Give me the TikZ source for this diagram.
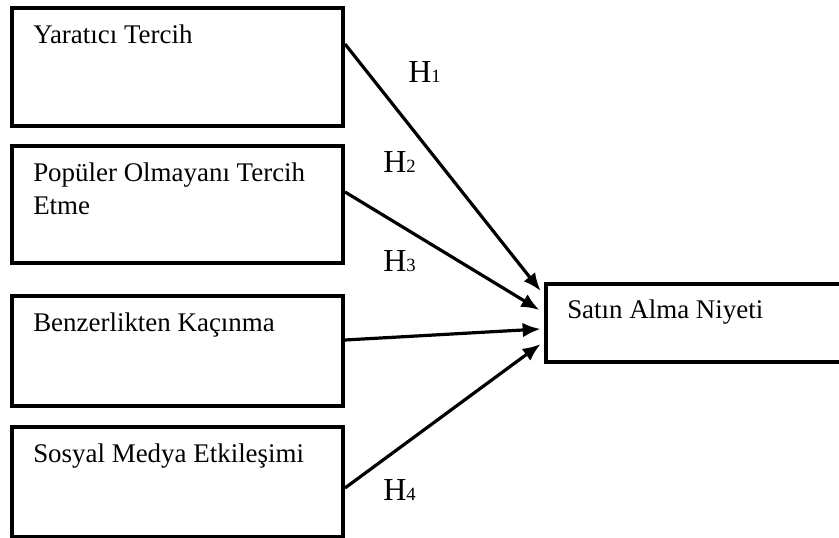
\documentclass[tikz,border=0pt]{standalone}
\usepackage{fontspec}
\setmainfont{Liberation Serif}
\usetikzlibrary{arrows.meta,positioning}
\tikzstyle{line} = [draw, line width=2.4pt, -{Latex[length=13.5pt,width=11pt]}]
\tikzstyle{block} = [draw, rectangle, line width=3pt, anchor=north west, minimum width=248.25pt, inner sep=0pt]
\tikzstyle{intext} = [anchor=north west, inner sep=0pt, align=left, xshift=17.25pt, yshift=-14.25pt, font=\fontsize{20.2}{24.75}\selectfont]
\tikzstyle{hyp} = [anchor=base west, inner sep=0pt, font=\fontsize{24}{28}\selectfont]
\newcommand{\hsub}[1]{H{\fontsize{14}{16}\selectfont #1}}

\begin{document}
\begin{tikzpicture}[x=0.75pt, y=-0.75pt]
        \useasboundingbox (0,0) rectangle (839,538);
        \node[block, minimum height=88.5pt, label={[intext]north west:Yaratıcı Tercih}] (yaratici) at (10,6) {};
        \node[block, minimum height=87.75pt, label={[intext]north west:Popüler Olmayanı Tercih\\Etme}] (populer) at (10,144) {};
        \node[block, minimum height=82.5pt, label={[intext]north west:Benzerlikten Kaçınma}] (benzer) at (10,294) {};
        \node[block, minimum height=82.5pt, label={[intext]north west:Sosyal Medya Etkileşimi}] (sosyal) at (10,425) {};
        \node[block, minimum width=229.5pt, minimum height=58.5pt, label={[intext, yshift=0.75pt]north west:Satın Alma Niyeti}] (satin) at (544,282) {};
        \node[hyp] (h1) at (408,83) {\hsub{1}};
        \node[hyp] (h2) at (383,173) {\hsub{2}};
        \node[hyp] (h3) at (383,272) {\hsub{3}};
        \node[hyp] (h4) at (383,500) {\hsub{4}};
        \path[line] ([yshift=17.25pt]yaratici.east) -- ([xshift=-2.5pt, yshift=24pt]satin.west);
        \path[line] ([yshift=9.4pt]populer.east) -- ([xshift=-3.5pt, yshift=9.75pt]satin.west);
        \path[line] ([yshift=8.25pt]benzer.east) -- ([xshift=-2.5pt, yshift=-4.5pt]satin.west);
        \path[line] ([yshift=-4.5pt]sosyal.east) -- ([xshift=-2.5pt, yshift=-15.75pt]satin.west);
    \end{tikzpicture}
\end{document}
